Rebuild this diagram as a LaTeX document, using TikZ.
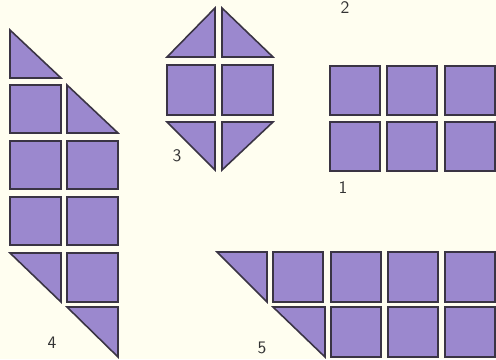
\documentclass[tikz,border=0pt]{standalone}
\usepackage{tikz}
\usepackage{xcolor}
\definecolor{tilefill}{RGB}{155,136,206}
\definecolor{tileedge}{RGB}{58,52,68}
\definecolor{paper}{RGB}{255,254,240}

\begin{document}
\begin{tikzpicture}[x=0.02cm,y=-0.02cm,
  tile/.style={fill=tilefill,draw=tileedge,line width=0.9pt,line join=miter},
  lab/.style={font=\sffamily,text=black!80}]
\fill[paper] (0,0) rectangle (496,359);
\useasboundingbox (0,0) rectangle (496,359);
% figure 4
\draw[tile] (10,30) -- (10,78) -- (61,78) -- cycle;
\draw[tile] (10,85) rectangle (61,133);
\draw[tile] (67,85) -- (67,133) -- (118,133) -- cycle;
\foreach \y in {141,197}
  \foreach \x in {10,67}
    \draw[tile] (\x,\y) rectangle ++(51,48);
\draw[tile] (10,253) -- (61,253) -- (61,302) -- cycle;
\draw[tile] (67,253) rectangle (118,302);
\draw[tile] (67,307) -- (118,307) -- (118,357) -- cycle;
\node[lab] (n4) at (52,343) {4};
% figure 3
\draw[tile] (167,57) -- (215,57) -- (215,8) -- cycle;
\draw[tile] (222,8) -- (222,57) -- (273,57) -- cycle;
\draw[tile] (167,65) rectangle (215,115);
\draw[tile] (222,65) rectangle (273,115);
\draw[tile] (167,122) -- (215,122) -- (215,170) -- cycle;
\draw[tile] (222,122) -- (273,122) -- (222,170) -- cycle;
\node[lab] (n3) at (177,156) {3};
% figure 1
\foreach \y in {66,122}
  \foreach \x in {330,387,445}
    \draw[tile] (\x,\y) rectangle ++(50,49);
\node[lab] (n1) at (343,188) {1};
\node[lab] (n2) at (345,8) {2};
% figure 5
\draw[tile] (217,252) -- (267,252) -- (267,302) -- cycle;
\foreach \x in {273,331,388,445}
  \draw[tile] (\x,252) rectangle ++(50,50);
\draw[tile] (273,307) -- (325,307) -- (325,357) -- cycle;
\foreach \x in {331,388,445}
  \draw[tile] (\x,307) rectangle ++(50,50);
\node[lab] (n5) at (262,348) {5};
\end{tikzpicture}
\end{document}
